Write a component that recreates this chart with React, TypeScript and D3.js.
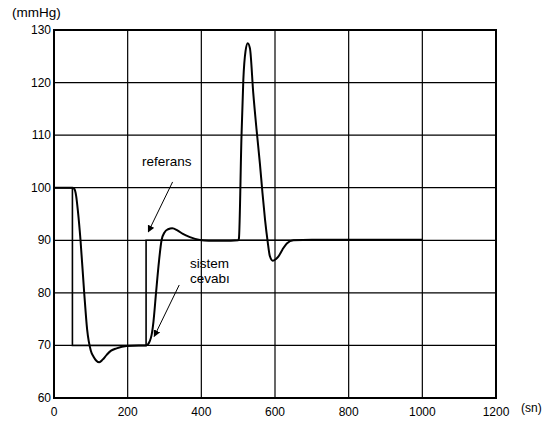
import React, { useEffect, useRef } from 'react';
import * as d3 from 'd3';

// reference signal (step changes)
const refTime = [0, 50, 50, 250, 250, 1000];
const refValue = [100, 100, 70, 70, 90, 90];

// system response
const sysTime = [0, 50, 55, 60, 65, 72, 82, 90, 100, 107, 115, 123, 132, 143, 155, 170, 197, 230, 250, 255, 260, 265, 270, 277, 285, 292, 300, 310, 321, 335, 350, 369, 396, 420, 460, 500, 502, 509, 514, 520, 526, 532, 541, 550, 559, 566, 573, 580, 586, 594, 602, 609, 620, 632, 650, 700, 800, 900, 1000];
const sysValue = [100, 100, 99.8, 98.5, 95.5, 90, 80, 73, 69, 67.9, 67.1, 66.8, 67.3, 68.2, 69, 69.45, 69.9, 70, 70, 70.2, 70.8, 72, 74.5, 80, 86, 90, 91.5, 92.1, 92.3, 91.9, 91.2, 90.6, 90.05, 89.9, 89.9, 90, 90.3, 109.7, 120.5, 126, 127.5, 126.5, 118, 111, 104.6, 99, 93.9, 89.8, 87, 86.1, 86.4, 86.9, 88.2, 89.4, 90, 90.1, 90.1, 90.1, 90.1];

const xTicks = [0, 200, 400, 600, 800, 1000, 1200];
const yTicks = [60, 70, 80, 90, 100, 110, 120, 130];

const App = () => {
	const d3Container = useRef<SVGSVGElement | null>(null);

	const width = 552;
	const height = 422;

	useEffect(() => {
		if (!d3Container.current) return;
		const margins = { t: 30, b: 24, l: 54, r: 56 };
		const plotwidth = width - margins.l - margins.r;
		const plotheight = height - margins.t - margins.b;

		const svg = d3.select(d3Container.current);
		svg.selectAll('*').remove();
		const font = '"Liberation Sans", Arial, sans-serif';

		const xScale = d3.scaleLinear().domain([0, 1200]).range([0, plotwidth]);
		const yScale = d3.scaleLinear().domain([60, 130]).range([plotheight, 0]);

		svg.append('defs')
			.append('marker')
			.attr('id', 'arrow')
			.attr('viewBox', '0 0 10 10')
			.attr('refX', 9)
			.attr('refY', 5)
			.attr('markerWidth', 7)
			.attr('markerHeight', 7)
			.attr('markerUnits', 'userSpaceOnUse')
			.attr('orient', 'auto')
			.append('path')
			.attr('d', 'M0,0 L10,5 L0,10 z')
			.attr('fill', '#000');

		const plotg = svg.append('g').attr('transform', `translate(${margins.l}, ${margins.t})`);

		// grid
		plotg.selectAll('.vgrid')
			.data(xTicks)
			.join('line')
			.attr('class', 'vgrid')
			.attr('x1', d => xScale(d))
			.attr('x2', d => xScale(d))
			.attr('y1', 0)
			.attr('y2', plotheight)
			.attr('stroke', '#000')
			.attr('stroke-width', 1.2);

		plotg.selectAll('.hgrid')
			.data(yTicks)
			.join('line')
			.attr('class', 'hgrid')
			.attr('x1', 0)
			.attr('x2', plotwidth)
			.attr('y1', d => yScale(d))
			.attr('y2', d => yScale(d))
			.attr('stroke', '#000')
			.attr('stroke-width', 1.2);

		plotg.append('rect')
			.attr('width', plotwidth)
			.attr('height', plotheight)
			.attr('fill', 'none')
			.attr('stroke', '#000')
			.attr('stroke-width', 2);

		// tick labels
		svg.selectAll('.xlabel')
			.data(xTicks)
			.join('text')
			.attr('class', 'xlabel')
			.attr('x', d => margins.l + xScale(d))
			.attr('y', margins.t + plotheight + 18)
			.attr('text-anchor', 'middle')
			.style('font-family', font)
			.style('font-size', '12px')
			.text(d => d);

		svg.selectAll('.ylabel')
			.data(yTicks)
			.join('text')
			.attr('class', 'ylabel')
			.attr('x', margins.l - 3)
			.attr('y', d => margins.t + yScale(d) + 4)
			.attr('text-anchor', 'end')
			.style('font-family', font)
			.style('font-size', '12px')
			.text(d => d);

		svg.append('text')
			.attr('x', 12)
			.attr('y', 17)
			.style('font-family', font)
			.style('font-size', '13.5px')
			.text('(mmHg)');

		svg.append('text')
			.attr('x', 521)
			.attr('y', 412)
			.style('font-family', font)
			.style('font-size', '12px')
			.text('(sn)');

		// lines
		const refLine = d3.line<number>()
			.x((d, i) => xScale(refTime[i]))
			.y(d => yScale(d));
		plotg.append('path')
			.attr('d', refLine(refValue))
			.attr('fill', 'none')
			.attr('stroke', '#000')
			.attr('stroke-width', 1.6);

		const sysLine = d3.line<number>()
			.x((d, i) => xScale(sysTime[i]))
			.y(d => yScale(d))
			.curve(d3.curveMonotoneX);
		plotg.append('path')
			.attr('d', sysLine(sysValue))
			.attr('fill', 'none')
			.attr('stroke', '#000')
			.attr('stroke-width', 2);

		// annotations
		plotg.append('text')
			.attr('x', xScale(239))
			.attr('y', yScale(104.1))
			.style('font-family', font)
			.style('font-size', '13.5px')
			.text('referans');
		plotg.append('line')
			.attr('x1', xScale(322))
			.attr('y1', yScale(101.1))
			.attr('x2', xScale(256))
			.attr('y2', yScale(91.6))
			.attr('stroke', '#000')
			.attr('stroke-width', 1)
			.attr('marker-end', 'url(#arrow)');

		plotg.append('text')
			.attr('x', xScale(369))
			.attr('y', yScale(84.8))
			.style('font-family', font)
			.style('font-size', '13.5px')
			.text('sistem');
		plotg.append('text')
			.attr('x', xScale(369))
			.attr('y', yScale(81.8))
			.style('font-family', font)
			.style('font-size', '13.5px')
			.text('cevabı');
		plotg.append('line')
			.attr('x1', xScale(340))
			.attr('y1', yScale(81.5))
			.attr('x2', xScale(272))
			.attr('y2', yScale(71.7))
			.attr('stroke', '#000')
			.attr('stroke-width', 1)
			.attr('marker-end', 'url(#arrow)');
	}, []);

	return (
		<svg
			width={width}
			height={height}
			ref={d3Container}
			style={{ position: 'absolute', left: 0, top: 0, background: '#fff' }}
		/>
	);
};

export default App;
